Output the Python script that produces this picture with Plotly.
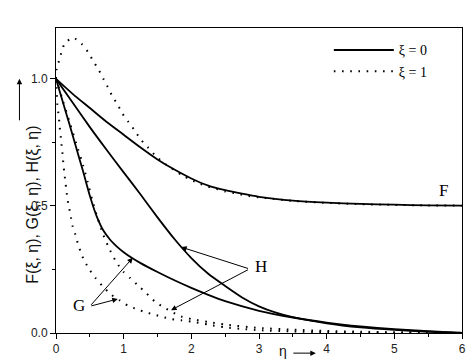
import plotly.graph_objects as go

# ---- data ----
eta_F0 = [0, 0.25, 0.5, 0.75, 1.0, 1.25, 1.5, 1.75, 2.0, 2.25, 2.5, 2.75, 3.0, 3.5, 4.0, 4.5, 5.0, 5.5, 6.0]
F0 = [1.0, 0.94, 0.885, 0.83, 0.78, 0.73, 0.683, 0.643, 0.608, 0.58, 0.562, 0.548, 0.536, 0.521, 0.513, 0.508, 0.505, 0.502, 0.501]

eta_F1 = [0, 0.01, 0.05, 0.083, 0.133, 0.256, 0.38, 0.48, 0.55, 0.63, 0.7, 0.765, 0.83, 0.91, 0.98, 1.07,
          1.16, 1.25, 1.36, 1.48, 1.62, 1.87, 2.0, 2.12, 2.25, 2.37, 2.5, 2.63, 2.75, 2.88, 3.0, 3.5, 4.0,
          4.5, 5.0, 5.5, 6.0]
F1 = [1.0, 1.04, 1.075, 1.107, 1.141, 1.162, 1.137, 1.103, 1.07, 1.036, 1.0, 0.968, 0.933, 0.899, 0.864,
      0.831, 0.798, 0.762, 0.73, 0.695, 0.664, 0.62, 0.602, 0.588, 0.576, 0.567, 0.557, 0.551, 0.544, 0.538,
      0.534, 0.52, 0.512, 0.507, 0.504, 0.502, 0.501]

eta_G0 = [0, 0.1, 0.2, 0.3, 0.4, 0.5, 0.6, 0.7, 0.8, 0.9, 1.0, 1.13, 1.25, 1.5, 1.75, 2.0, 2.25, 2.5, 3.0,
          3.5, 4.0, 4.5, 5.0, 5.5, 6.0]
G0 = [1.0, 0.91, 0.82, 0.728, 0.636, 0.54, 0.46, 0.403, 0.367, 0.34, 0.318, 0.294, 0.275, 0.24, 0.2075,
      0.1775, 0.15, 0.125, 0.0875, 0.061, 0.041, 0.026, 0.015, 0.007, 0.0]

eta_H0 = [0, 0.25, 0.5, 0.75, 1.0, 1.25, 1.5, 1.75, 2.0, 2.25, 2.5, 2.75, 3.0, 3.25, 3.5, 4.0, 4.5, 5.0, 5.5, 6.0]
H0 = [1.0, 0.905, 0.81, 0.72, 0.632, 0.545, 0.455, 0.37, 0.295, 0.233, 0.185, 0.14, 0.105, 0.08, 0.062,
      0.038, 0.022, 0.012, 0.005, 0.0]

eta_G1 = [0, 0.01, 0.02, 0.035, 0.05, 0.06, 0.075, 0.085, 0.1, 0.11, 0.125, 0.14, 0.155, 0.172, 0.197,
          0.222, 0.246, 0.286, 0.32, 0.36, 0.41, 0.493, 0.582, 0.69, 0.815, 0.937, 1.06, 1.21, 1.33, 1.456,
          1.58, 1.7, 1.85, 2.0, 2.25, 2.5, 2.75, 3.0, 3.5, 4.0, 4.5, 5.0, 5.5, 6.0]
G1 = [1.0, 0.94, 0.9, 0.864, 0.828, 0.795, 0.762, 0.73, 0.697, 0.661, 0.627, 0.592, 0.559, 0.523, 0.489,
      0.454, 0.42, 0.388, 0.355, 0.322, 0.289, 0.25, 0.217, 0.184, 0.151, 0.129, 0.108, 0.092, 0.081, 0.072,
      0.063, 0.055, 0.05, 0.045, 0.033, 0.022, 0.016, 0.011, 0.006, 0.003, 0.0015, 0.001, 0.0005, 0.0]

eta_H1 = [0, 0.1, 0.2, 0.3, 0.4, 0.47, 0.533, 0.6, 0.7, 0.8, 0.9, 1.0, 1.1, 1.2, 1.33, 1.456, 1.58, 1.7,
          1.85, 2.0, 2.25, 2.5, 3.0, 3.5, 4.0, 4.5, 5.0, 5.5, 6.0]
H1 = [1.0, 0.915, 0.83, 0.745, 0.66, 0.592, 0.526, 0.465, 0.385, 0.325, 0.275, 0.24, 0.215, 0.19, 0.158,
      0.125, 0.103, 0.085, 0.065, 0.055, 0.043, 0.033, 0.02, 0.013, 0.008, 0.005, 0.003, 0.0015, 0.0005]

x_ticks = [0, 1, 2, 3, 4, 5, 6]
y_ticks = [0.0, 0.5, 1.0]
y_tick_text = ["0.0", "0.5", "1.0"]

SOLID = dict(color="black", width=1.8, shape="spline", smoothing=0.6)
DOTTED = dict(color="black", width=2, dash="1.6px,6.6px", shape="spline", smoothing=0.6)

fig = go.Figure()
fig.add_trace(go.Scatter(x=eta_F0, y=F0, mode="lines", line=SOLID, name="ξ = 0", showlegend=True))
fig.add_trace(go.Scatter(x=eta_F1, y=F1, mode="lines", line=DOTTED, name="ξ = 1", showlegend=True))
fig.add_trace(go.Scatter(x=eta_G0, y=G0, mode="lines", line=SOLID, showlegend=False))
fig.add_trace(go.Scatter(x=eta_H0, y=H0, mode="lines", line=SOLID, showlegend=False))
fig.add_trace(go.Scatter(x=eta_G1, y=G1, mode="lines", line=DOTTED, showlegend=False))
fig.add_trace(go.Scatter(x=eta_H1, y=H1, mode="lines", line=DOTTED, showlegend=False))

SERIF = "Liberation Serif, Times New Roman, serif"
SANS = "Liberation Sans, Arial, sans-serif"

annotations = []
# curve labels
for txt, xx, yy in [("F", 5.73, 0.562), ("H", 3.03, 0.26), ("G", 0.345, 0.108)]:
    annotations.append(dict(x=xx, y=yy, xref="x", yref="y", text=txt, showarrow=False,
                            font=dict(family=SERIF, size=17, color="black")))
# arrows from labels to curves
for (hx, hy, tx, ty) in [(1.85, 0.338, 2.86, 0.252), (1.70, 0.090, 2.86, 0.252),
                         (1.135, 0.296, 0.50, 0.105), (0.913, 0.134, 0.50, 0.105)]:
    annotations.append(dict(x=hx, y=hy, ax=tx, ay=ty, xref="x", yref="y", axref="x", ayref="y",
                            text="", showarrow=True, arrowhead=2, arrowsize=1.1, arrowwidth=1,
                            arrowcolor="black", standoff=0, startstandoff=0))
# axis titles
annotations.append(dict(x=-0.084, y=0.42, xref="paper", yref="paper", text="F(ξ, η), G(ξ, η), H(ξ, η)",
                        textangle=-90, showarrow=False, font=dict(family=SANS, size=16, color="#111")))
annotations.append(dict(x=-0.09, y=1.0, xref="paper", yref="y", ax=0, ay=43, text="", showarrow=True,
                        arrowhead=2, arrowsize=1.1, arrowwidth=1, arrowcolor="black", standoff=0))
annotations.append(dict(x=0.559, y=-0.058, xref="paper", yref="paper", text="η", showarrow=False,
                        yanchor="middle", font=dict(family=SANS, size=14, color="#111")))
annotations.append(dict(x=0.640, y=-0.066, xref="paper", yref="paper", ax=-24, ay=0, text="",
                        showarrow=True, arrowhead=2, arrowsize=1.1, arrowwidth=1, arrowcolor="black",
                        standoff=0))

# the page body has an 8px margin, so the figure is sized/margined to compensate
fig.update_layout(
    width=466, height=351,
    margin=dict(l=48, r=12, t=20, b=26, autoexpand=False),
    paper_bgcolor="white", plot_bgcolor="white",
    showlegend=True,
    legend=dict(x=0.672, y=0.979, xanchor="left", yanchor="top", bgcolor="rgba(0,0,0,0)",
                font=dict(family=SERIF, size=14, color="black"), itemwidth=60,
                tracegroupgap=0),
    annotations=annotations,
)
fig.update_xaxes(range=[0, 6], tickvals=x_ticks, ticks="outside", ticklen=5, tickwidth=1,
                 tickcolor="black", showline=True, linecolor="black", linewidth=1, mirror=True,
                 showgrid=False, zeroline=False, automargin=False,
                 minor=dict(dtick=0.5, tick0=0, ticks="outside", ticklen=3, tickcolor="black", showgrid=False),
                 tickfont=dict(family=SANS, size=12, color="#222"))
fig.update_yaxes(range=[0, 1.2], tickvals=y_ticks, ticktext=y_tick_text, ticks="outside", ticklen=5,
                 tickwidth=1, tickcolor="black", showline=True, linecolor="black", linewidth=1, mirror=True,
                 showgrid=False, zeroline=False, automargin=False,
                 minor=dict(dtick=0.25, tick0=0, ticks="outside", ticklen=3, tickcolor="black", showgrid=False),
                 tickfont=dict(family=SANS, size=12, color="#222"))

fig.write_html("out.html")
